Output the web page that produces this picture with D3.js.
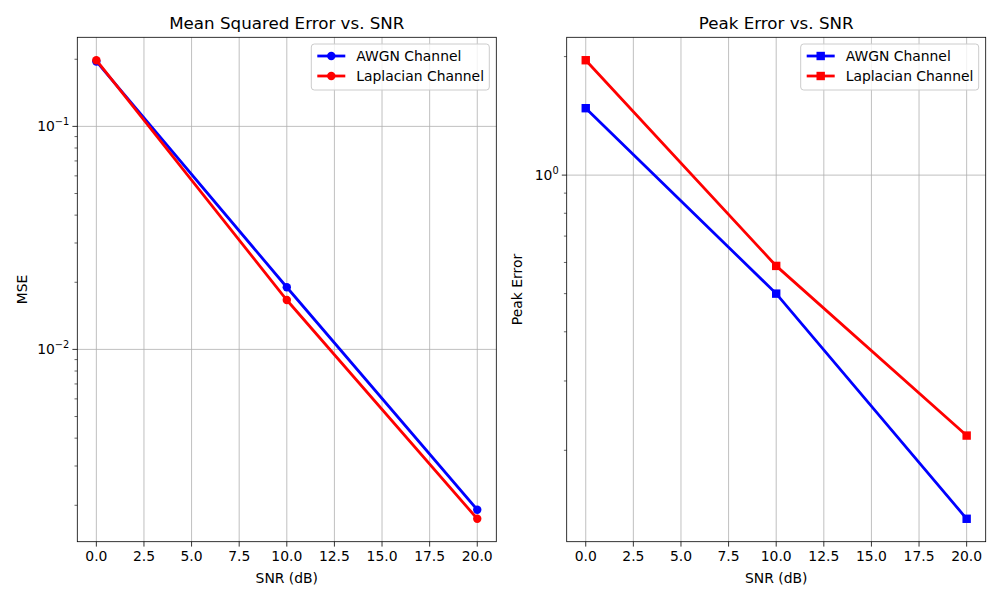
<!DOCTYPE html>
<html>
<head>
<script src="https://d3js.org/d3.v7.min.js"></script>
<style>
body { margin: 0; background: #fff; }
text { font-family: "DejaVu Sans", sans-serif; }
</style>
</head>
<body>
<script>
// data
var snr = [0, 10, 20]
var seriesNames = ["AWGN Channel", "Laplacian Channel"]
var seriesColors = ["#0000ff", "#ff0000"]
var mseAwgn = [0.1955, 0.0190, 0.00191]
var mseLaplacian = [0.198, 0.01665, 0.00174]
var peakAwgn = [1.479, 0.500, 0.134]
var peakLaplacian = [1.958, 0.588, 0.218]
var xTicks = [0, 2.5, 5, 7.5, 10, 12.5, 15, 17.5, 20]

var w = 1000
var h = 600

var svg = d3.select("body")
            .append("svg")
            .attr("width", w)
            .attr("height", h)

svg.append("rect")
   .attr("width", w)
   .attr("height", h)
   .attr("fill", "white")

function logPad(vals) {
    var lo = Math.log10(d3.min(vals)), hi = Math.log10(d3.max(vals))
    var m = (hi - lo) * 0.05
    return [Math.pow(10, lo - m), Math.pow(10, hi + m)]
}

function drawPanel(opts) {
    var x0 = opts.left, x1 = opts.right, y0 = 37.3, y1 = 541.7
    var g = svg.append("g")

    var xScale = d3.scaleLinear().domain([-1, 21]).range([x0, x1])
    var all = opts.data[0].concat(opts.data[1])
    var yScale = d3.scaleLog().domain(logPad(all)).range([y1, y0])
    var dom = yScale.domain()

    // grid x
    g.selectAll(".gx")
     .data(xTicks)
     .enter()
     .append("line")
     .attr("x1", function(d){ return xScale(d) })
     .attr("x2", function(d){ return xScale(d) })
     .attr("y1", y0)
     .attr("y2", y1)
     .attr("stroke", "#b0b0b0")
     .attr("stroke-width", 0.8)

    // y ticks
    var majors = [], minors = []
    for (var e = Math.floor(Math.log10(dom[0])); e <= Math.ceil(Math.log10(dom[1])); e++) {
        for (var k = 1; k < 10; k++) {
            var v = k * Math.pow(10, e)
            if (v < dom[0] || v > dom[1]) continue
            if (k == 1) majors.push(e)
            else minors.push(v)
        }
    }

    g.selectAll(".gy")
     .data(majors)
     .enter()
     .append("line")
     .attr("x1", x0)
     .attr("x2", x1)
     .attr("y1", function(d){ return yScale(Math.pow(10, d)) })
     .attr("y2", function(d){ return yScale(Math.pow(10, d)) })
     .attr("stroke", "#b0b0b0")
     .attr("stroke-width", 0.8)

    g.selectAll(".ymaj")
     .data(majors)
     .enter()
     .append("line")
     .attr("x1", x0 - 4.9)
     .attr("x2", x0)
     .attr("y1", function(d){ return yScale(Math.pow(10, d)) })
     .attr("y2", function(d){ return yScale(Math.pow(10, d)) })
     .attr("stroke", "black")
     .attr("stroke-width", 0.8)

    g.selectAll(".ymin")
     .data(minors)
     .enter()
     .append("line")
     .attr("x1", x0 - 2.8)
     .attr("x2", x0)
     .attr("y1", function(d){ return yScale(d) })
     .attr("y2", function(d){ return yScale(d) })
     .attr("stroke", "black")
     .attr("stroke-width", 0.6)

    var lab = g.selectAll(".ylab")
     .data(majors)
     .enter()
     .append("text")
     .attr("x", x0 - 8)
     .attr("y", function(d){ return yScale(Math.pow(10, d)) + 5 })
     .attr("text-anchor", "end")
     .attr("font-size", "13.9px")
     .attr("fill", "black")
    lab.append("tspan").text("10")
    lab.append("tspan")
       .attr("dy", -6)
       .attr("font-size", "9.8px")
       .text(function(d){ return d < 0 ? "\u2212" + (-d) : d })

    // x ticks
    g.selectAll(".xt")
     .data(xTicks)
     .enter()
     .append("line")
     .attr("x1", function(d){ return xScale(d) })
     .attr("x2", function(d){ return xScale(d) })
     .attr("y1", y1)
     .attr("y2", y1 + 4.9)
     .attr("stroke", "black")
     .attr("stroke-width", 0.8)

    g.selectAll(".xl")
     .data(xTicks)
     .enter()
     .append("text")
     .attr("x", function(d){ return xScale(d) })
     .attr("y", y1 + 19)
     .attr("text-anchor", "middle")
     .attr("font-size", "13.9px")
     .attr("fill", "black")
     .text(function(d){ return d.toFixed(1) })

    // lines
    var line = d3.line()
                 .x(function(d, i){ return xScale(snr[i]) })
                 .y(function(d){ return yScale(d) })

    opts.data.forEach(function(vals, s) {
        g.append("path")
         .attr("d", line(vals))
         .attr("fill", "none")
         .attr("stroke", seriesColors[s])
         .attr("stroke-width", 2.78)
        if (opts.marker == "circle") {
            g.selectAll(".m" + s)
             .data(vals)
             .enter()
             .append("circle")
             .attr("cx", function(d, i){ return xScale(snr[i]) })
             .attr("cy", function(d){ return yScale(d) })
             .attr("r", 4.2)
             .attr("fill", seriesColors[s])
        } else {
            g.selectAll(".m" + s)
             .data(vals)
             .enter()
             .append("rect")
             .attr("x", function(d, i){ return xScale(snr[i]) - 4.2 })
             .attr("y", function(d){ return yScale(d) - 4.2 })
             .attr("width", 8.4)
             .attr("height", 8.4)
             .attr("fill", seriesColors[s])
        }
    })

    // frame
    g.append("rect")
     .attr("x", x0)
     .attr("y", y0)
     .attr("width", x1 - x0)
     .attr("height", y1 - y0)
     .attr("fill", "none")
     .attr("stroke", "black")
     .attr("stroke-width", 0.8)

    // titles
    g.append("text")
     .attr("x", (x0 + x1) / 2)
     .attr("y", 29)
     .attr("text-anchor", "middle")
     .attr("font-size", "16.7px")
     .text(opts.title)

    g.append("text")
     .attr("x", (x0 + x1) / 2)
     .attr("y", 583)
     .attr("text-anchor", "middle")
     .attr("font-size", "13.9px")
     .text("SNR (dB)")

    g.append("text")
     .attr("transform", "translate(" + opts.ylabX + "," + (y0 + y1) / 2 + ") rotate(-90)")
     .attr("text-anchor", "middle")
     .attr("font-size", "13.9px")
     .text(opts.ylabel)

    // legend
    var lx = x1 - 185, ly = 44
    g.append("rect")
     .attr("x", lx)
     .attr("y", ly)
     .attr("width", 178)
     .attr("height", 46)
     .attr("rx", 3)
     .attr("fill", "white")
     .attr("fill-opacity", 0.8)
     .attr("stroke", "#cccccc")
     .attr("stroke-width", 1)

    seriesNames.forEach(function(name, s) {
        var yy = ly + 12 + s * 20
        g.append("line")
         .attr("x1", lx + 6)
         .attr("x2", lx + 34)
         .attr("y1", yy)
         .attr("y2", yy)
         .attr("stroke", seriesColors[s])
         .attr("stroke-width", 2.78)
        if (opts.marker == "circle") {
            g.append("circle")
             .attr("cx", lx + 20)
             .attr("cy", yy)
             .attr("r", 4.2)
             .attr("fill", seriesColors[s])
        } else {
            g.append("rect")
             .attr("x", lx + 20 - 4.2)
             .attr("y", yy - 4.2)
             .attr("width", 8.4)
             .attr("height", 8.4)
             .attr("fill", seriesColors[s])
        }
        g.append("text")
         .attr("x", lx + 45)
         .attr("y", yy + 5)
         .attr("font-size", "13.9px")
         .text(name)
    })
}

drawPanel({
    left: 77.3, right: 496.3,
    data: [mseAwgn, mseLaplacian],
    marker: "circle",
    title: "Mean Squared Error vs. SNR",
    ylabel: "MSE",
    ylabX: 27
})

drawPanel({
    left: 566.7, right: 985.7,
    data: [peakAwgn, peakLaplacian],
    marker: "square",
    title: "Peak Error vs. SNR",
    ylabel: "Peak Error",
    ylabX: 522
})
</script>
</body>
</html>
